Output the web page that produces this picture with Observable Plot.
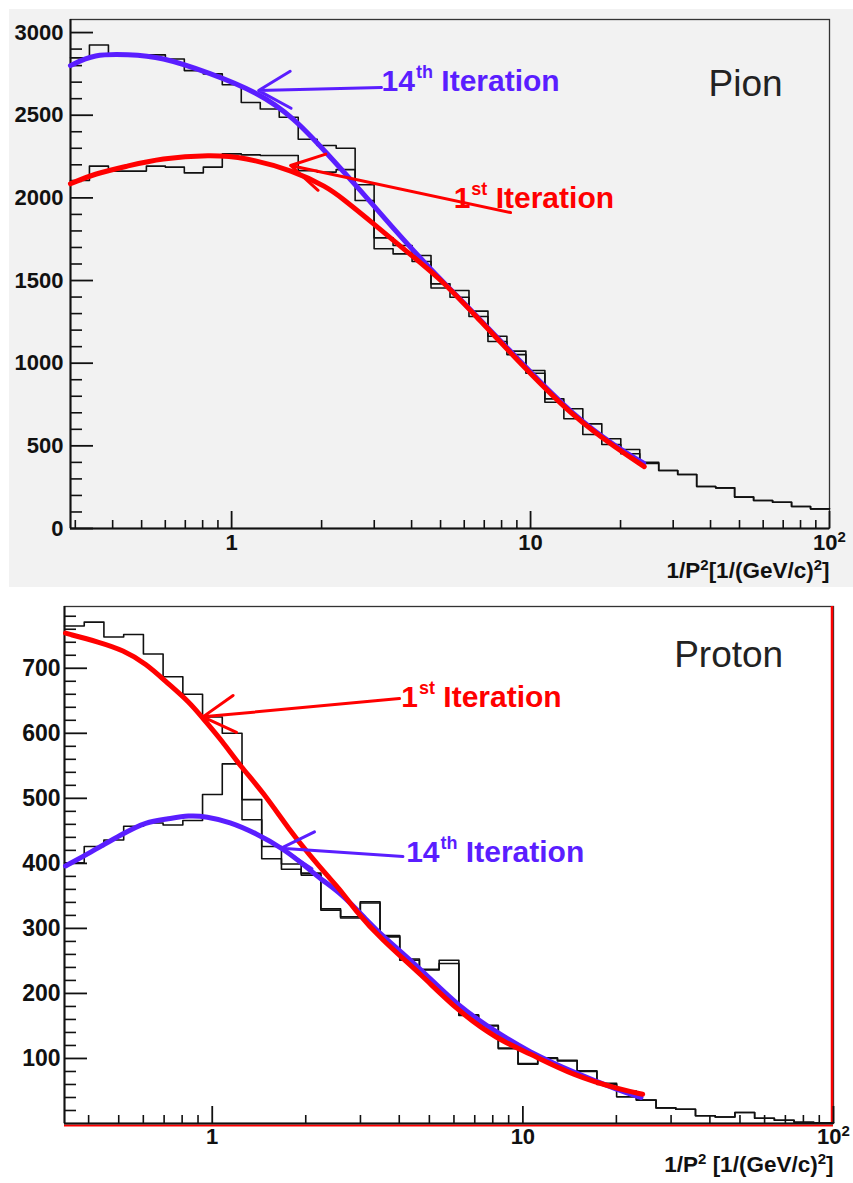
<!DOCTYPE html>
<html><head><meta charset="utf-8">
<script src="https://cdn.jsdelivr.net/npm/d3@7"></script>
<script src="https://cdn.jsdelivr.net/npm/@observablehq/plot@0.6"></script>
<style>
body{margin:0;background:#fff;}
#wrap{position:relative;width:853px;height:1183px;overflow:hidden;background:#fff;}
#pion{position:absolute;left:9px;top:9px;width:844px;height:578px;background:#f2f2f2;}
#proton{position:absolute;left:0;top:590px;width:853px;height:593px;background:#fff;}
</style></head><body>
<div id="wrap"><div id="pion"></div><div id="proton"></div></div>
<script>
// ---- bin edges of the 1/P^2 histograms (log-uniform bins) ----
const binEdges = [0.2891, 0.3345, 0.3872, 0.4480, 0.5187, 0.6004, 0.6947, 0.8042, 0.9307, 1.0772,
  1.2469, 1.4432, 1.6704, 1.9333, 2.2375, 2.5893, 2.9970, 3.4688, 4.0151, 4.6452,
  5.3770, 6.2230, 7.2027, 8.3344, 9.6474, 11.166, 12.924, 14.957, 17.312, 20.037,
  23.191, 26.836, 31.061, 35.950, 41.610, 48.153, 55.734, 64.508, 74.664, 86.407, 100];

// ---- Pion histograms (40 bins) ----
const pionHist14 = [2847, 2925, 2865, 2862, 2865, 2840, 2770, 2750, 2684, 2577, 2538, 2488, 2355, 2317, 2300,
  2079, 1758, 1712, 1651, 1480, 1440, 1315, 1163, 1073, 956, 784, 724, 633, 543, 478,
  401, 351, 327, 254, 246, 190, 169, 159, 133, 119];
const pionHist1 = [2105, 2192, 2162, 2162, 2192, 2186, 2151, 2186, 2266, 2260, 2256, 2256, 2165, 2156, 2171,
  1984, 1692, 1661, 1615, 1455, 1399, 1282, 1131, 1052, 939, 764, 664, 569, 508, 452,
  394, 351, 327, 254, 246, 190, 169, 159, 133, 119];

// ---- Pion fit curves ----
const pionFit14X = [0.289, 0.346, 0.45, 0.579, 0.85, 1.22, 1.61, 2.09, 2.70, 3.40, 4.63, 6.46, 9.62, 13.96, 19.5, 23.9];
const pionFit14Y = [2800, 2871, 2868, 2855, 2754, 2639, 2488, 2267, 2044, 1835, 1566, 1305, 975, 680, 488, 395];
const pionFit1X = [0.289, 0.346, 0.448, 0.579, 0.85, 1.10, 1.61, 2.09, 2.32, 2.99, 3.87, 5.0, 6.46, 9.62, 13.96, 19.5, 24.0];
const pionFit1Y = [2085, 2145, 2192, 2240, 2260, 2246, 2165, 2064, 2004, 1843, 1672, 1510, 1298, 966, 673, 482, 374];

// ---- Proton histograms (39 bins, from the 2nd edge) ----
const protonHist1 = [765, 771, 748, 752, 722, 687, 660, 625, 600, 498, 426, 399, 385, 330, 318, 341, 289, 253, 237, 251,
  167, 151, 116, 92, 101, 97, 81, 62, 50, 36, 24, 22, 12, 10, 17, 8, 5, 2, 1];
const protonHist14 = [401, 426, 436, 457, 462, 459, 466, 506, 553, 467, 407, 391, 382, 328, 316, 339, 287, 251, 236, 246,
  166, 150, 115, 91, 100, 96, 80, 60, 41, 36, 24, 22, 12, 10, 17, 8, 5, 2, 1];

// ---- Proton fit curves ----
const protonFit1X = [0.337, 0.434, 0.516, 0.613, 0.711, 0.845, 0.933, 1.082, 1.224, 1.456, 1.774, 2.057, 2.357, 2.60, 2.87, 3.50, 4.71, 6.18, 8.31, 10.38, 14.66, 20.7, 24.3];
const protonFit1Y = [754, 740, 728, 707, 679, 648, 623, 587, 551, 510, 451, 413, 380, 358, 329, 283, 229, 173, 129, 109, 73, 52, 45];
const protonFit14X = [0.337, 0.403, 0.516, 0.613, 0.711, 0.845, 0.956, 1.137, 1.386, 1.689, 2.007, 2.243, 2.60, 3.17, 3.50, 4.71, 6.18, 8.31, 10.38, 14.66, 20.7, 24.0];
const protonFit14Y = [396, 416, 446, 464, 468, 474, 472, 464, 446, 423, 395, 375, 354, 311, 290, 237, 180, 139, 111, 78, 50, 40];

// ---- ticks and labels ----
const pionYMajor = [0, 500, 1000, 1500, 2000, 2500, 3000];
const pionYMinor = [100, 200, 300, 400, 600, 700, 800, 900, 1100, 1200, 1300, 1400, 1600, 1700, 1800, 1900,
  2100, 2200, 2300, 2400, 2600, 2700, 2800, 2900];
const protonYMajor = [100, 200, 300, 400, 500, 600, 700];
const protonYMinor = [20, 40, 60, 80, 120, 140, 160, 180, 220, 240, 260, 280, 320, 340, 360, 380, 420, 440, 460, 480,
  520, 540, 560, 580, 620, 640, 660, 680, 720, 740, 760, 780];
const xMajor = [1, 10, 100];
const xMajorLabels = ["1", "10", "10²"];
const pionXMinor = [0.3, 0.4, 0.5, 0.6, 0.7, 0.8, 0.9, 2, 3, 4, 5, 6, 7, 8, 9, 20, 30, 40, 50, 60, 70, 80, 90];
const protonXMinor = [0.4, 0.5, 0.6, 0.7, 0.8, 0.9, 2, 3, 4, 5, 6, 7, 8, 9, 20, 30, 40, 50, 60, 70, 80, 90];
const pionXTitle = "1/P²[1/(GeV/c)²]";
const protonXTitle = "1/P² [1/(GeV/c)²]";

// ---- annotations (in data units) ----
const pionTitle = "Pion", pionTitleX = 39.4, pionTitleY = 2690;
const protonTitle = "Proton", protonTitleX = 30.7, protonTitleY = 720;
const pionNote14 = "14th Iteration", pionNote14X = 3.175, pionNote14Y = 2705;
const pionNote1 = "1st Iteration", pionNote1X = 5.53, pionNote1Y = 1998;
const pionArrow14 = [3.17, 2667, 1.231, 2649];
const pionArrow1 = [8.57, 1911, 1.575, 2196];
const protonNote1 = "1st Iteration", protonNote1X = 4.06, protonNote1Y = 656;
const protonNote14 = "14th Iteration", protonNote14X = 4.21, protonNote14Y = 417;
const protonArrow1 = [4.007, 653.5, 0.933, 625.3];
const protonArrow14 = [4.11, 410.5, 1.668, 423.4];

const FONT = "'Liberation Sans', Arial, Helvetica, sans-serif";
const BLUE = "#5a1eff", RED = "#ff0000", INK = "#111";

function stepPoints(edges, values) {
  const pts = values.map((v, i) => ({x: edges[i], y: v}));
  pts.push({x: edges[values.length], y: values[values.length - 1]});
  return pts;
}
function curvePoints(xs, ys) { return xs.map((x, i) => ({x, y: ys[i]})); }
function arrow(a, color) {
  return Plot.arrow([a], {x1: d => d[0], y1: d => d[1], x2: d => d[2], y2: d => d[3],
    stroke: color, strokeWidth: 3, headLength: 18.5, headAngle: 60, bend: 0});
}
function note(txt, x, y, color) {
  return Plot.text([txt], {x: () => x, y: () => y, text: d => d, textAnchor: "start",
    fill: color, fontSize: 30, fontWeight: "bold"});
}

function panel(c) {
  const fw = c.width - c.marginLeft - c.marginRight;
  const fh = c.height - c.marginTop - c.marginBottom;
  return Plot.plot({
    width: c.width, height: c.height,
    marginLeft: c.marginLeft, marginRight: c.marginRight, marginTop: c.marginTop, marginBottom: c.marginBottom,
    style: {background: "transparent", fontFamily: FONT, overflow: "visible"},
    x: {type: "log", domain: c.xDomain, axis: null},
    y: {domain: c.yDomain, axis: null},
    marks: [
      Plot.frame({stroke: "#333", strokeWidth: 1.3}),
      ...c.back,
      Plot.ruleX([c.xDomain[0]], {stroke: INK, strokeWidth: 2}),
      Plot.ruleY([0], {stroke: INK, strokeWidth: 2}),
      Plot.tickY(c.yMinor, {y: d => d, insetRight: fw - 12, stroke: INK, strokeWidth: 1.6}),
      Plot.tickY(c.yMajor, {y: d => d, insetRight: fw - 23, stroke: INK, strokeWidth: 1.8}),
      Plot.tickX(c.xMinor, {x: d => d, insetTop: fh - 8, stroke: INK, strokeWidth: 1.6}),
      Plot.tickX(xMajor, {x: d => d, insetTop: fh - 17, stroke: INK, strokeWidth: 1.8}),
      Plot.text(c.yLabels, {y: d => d, text: d => String(d), frameAnchor: "left", textAnchor: "end",
        dx: c.yLabelDx, fontSize: c.tickFont, fontWeight: "bold", fill: INK}),
      Plot.text(xMajorLabels, {x: (d, i) => xMajor[i], text: d => d, frameAnchor: "bottom",
        dy: c.labelDy, fontSize: c.xTickFont, fontWeight: "bold", fill: INK}),
      Plot.text([c.xTitle], {frameAnchor: "bottom-right", textAnchor: "end", text: d => d,
        dy: c.titleDy, fontSize: 22.5, fontWeight: "bold", fill: INK}),
      Plot.line(stepPoints(c.edges, c.histA), {x: "x", y: "y", curve: "step-after", stroke: INK, strokeWidth: 1.6}),
      Plot.line(stepPoints(c.edges, c.histB), {x: "x", y: "y", curve: "step-after", stroke: INK, strokeWidth: 1.6}),
      Plot.line(curvePoints(c.fit14X, c.fit14Y), {x: "x", y: "y", curve: "basis", stroke: BLUE, strokeWidth: 5}),
      Plot.line(curvePoints(c.fit1X, c.fit1Y), {x: "x", y: "y", curve: "basis", stroke: RED, strokeWidth: 5}),
      ...c.front
    ]
  });
}

const NS = "http://www.w3.org/2000/svg";
function tsp(parent, txt, attrs) {
  const s = document.createElementNS(NS, "tspan");
  s.textContent = txt;
  for (const k in attrs) s.setAttribute(k, attrs[k]);
  parent.appendChild(s);
}
function supify(svg) {
  svg.querySelectorAll("text").forEach(t => {
    const txt = t.textContent;
    const m = txt.match(/^(\d+)(st|th) (Iteration)$/);
    if (m) {
      t.textContent = "";
      tsp(t, m[1], {});
      tsp(t, m[2], {"font-size": 18, dy: -13, dx: 1});
      tsp(t, " " + m[3], {dy: 13});
      return;
    }
    if (txt.includes("²")) {
      const parts = txt.split("²");
      t.textContent = "";
      parts.forEach((p, i) => {
        if (p) tsp(t, p, i > 0 ? {dy: 8} : {});
        if (i < parts.length - 1) tsp(t, "2", {"font-size": 15, dy: -8});
      });
    }
  });
}

const pion = panel({
  width: 844, height: 578, marginLeft: 61, marginRight: 24, marginTop: 10, marginBottom: 59,
  xDomain: [binEdges[0], 100], yDomain: [0, 3079],
  yMajor: pionYMajor, yMinor: pionYMinor, xMinor: pionXMinor, yLabels: pionYMajor, yLabelDx: -7,
  tickFont: 22, xTickFont: 22, labelDy: 21, xTitle: pionXTitle, titleDy: 49,
  edges: binEdges, histA: pionHist14, histB: pionHist1,
  fit14X: pionFit14X, fit14Y: pionFit14Y, fit1X: pionFit1X, fit1Y: pionFit1Y,
  back: [],
  front: [
    arrow(pionArrow14, BLUE), arrow(pionArrow1, RED),
    note(pionNote14, pionNote14X, pionNote14Y, BLUE),
    note(pionNote1, pionNote1X, pionNote1Y, RED),
    Plot.text([pionTitle], {x: () => pionTitleX, y: () => pionTitleY, text: d => d, textAnchor: "start",
      fontSize: 37, fill: "#222"})
  ]
});
supify(pion);
document.getElementById("pion").appendChild(pion);

const proton = panel({
  width: 853, height: 593, marginLeft: 64, marginRight: 20, marginTop: 16, marginBottom: 60,
  xDomain: [binEdges[1], 100], yDomain: [0, 795],
  yMajor: protonYMajor, yMinor: protonYMinor, xMinor: protonXMinor, yLabels: protonYMajor, yLabelDx: -4,
  tickFont: 23, xTickFont: 22, labelDy: 20, xTitle: protonXTitle, titleDy: 48,
  edges: binEdges.slice(1), histA: protonHist1, histB: protonHist14,
  fit14X: protonFit14X, fit14Y: protonFit14Y, fit1X: protonFit1X, fit1Y: protonFit1Y,
  back: [
    Plot.ruleY([0], {stroke: RED, strokeWidth: 2, dy: 2}),
    Plot.ruleX([100], {stroke: RED, strokeWidth: 2.5, dx: -1.5})
  ],
  front: [
    arrow(protonArrow1, RED), arrow(protonArrow14, BLUE),
    note(protonNote1, protonNote1X, protonNote1Y, RED),
    note(protonNote14, protonNote14X, protonNote14Y, BLUE),
    Plot.text([protonTitle], {x: () => protonTitleX, y: () => protonTitleY, text: d => d, textAnchor: "start",
      fontSize: 37, fill: "#222"})
  ]
});
supify(proton);
document.getElementById("proton").appendChild(proton);
</script>
</body></html>
